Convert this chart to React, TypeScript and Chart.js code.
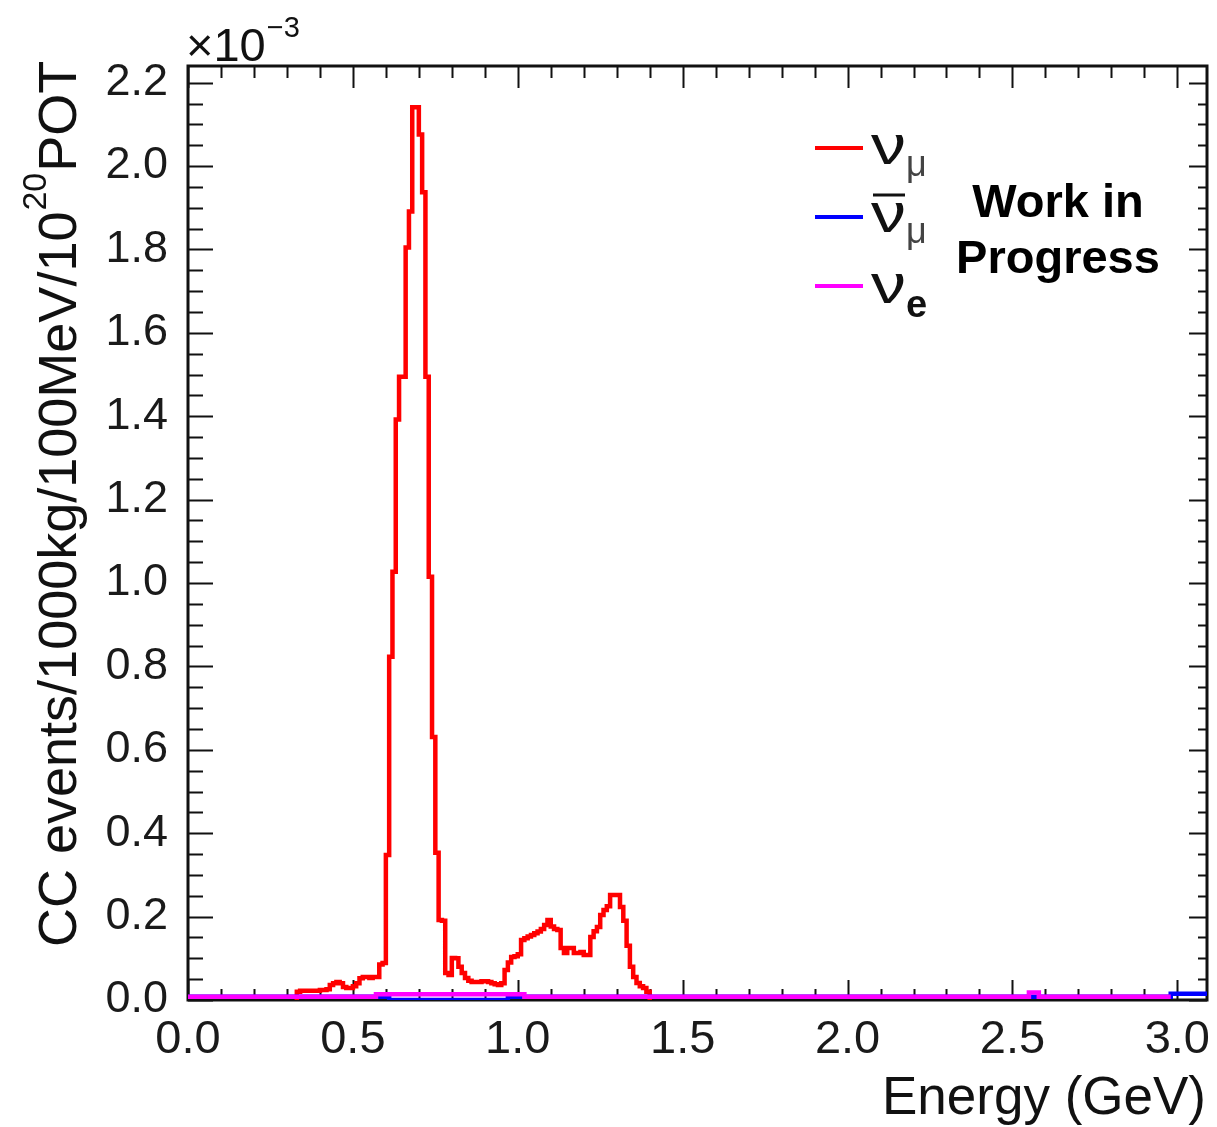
import React, { useEffect, useRef } from 'react';
import { Chart, registerables } from 'chart.js';

Chart.register(...registerables);

// ---------- data (values in units of 1e-3) ----------
const BIN_WIDTH = 0.01; // GeV
const numuStart = 0.33; // GeV, low edge of first non-empty bin
const numuValues = [
  0.02, 0.022, 0.022, 0.022, 0.022, 0.022, 0.022, 0.024, 0.024, 0.026, // 0.33-0.42
  0.036, 0.04, 0.043, 0.04, 0.031, 0.029, 0.029, 0.033, 0.04, 0.052, // 0.43-0.52
  0.055, 0.055, 0.053, 0.055, 0.055, 0.085, 0.089, 0.348, 0.823, 1.027, // 0.53-0.62
  1.392, 1.495, 1.495, 1.805, 1.891, 2.141, 2.141, 2.076, 1.937, 1.495, // 0.63-0.72
  1.015, 0.631, 0.353, 0.192, 0.19, 0.065, 0.06, 0.101, 0.1, 0.08, // 0.73-0.82
  0.065, 0.053, 0.046, 0.043, 0.043, 0.043, 0.045, 0.045, 0.043, 0.04, // 0.83-0.92
  0.038, 0.036, 0.04, 0.072, 0.09, 0.103, 0.105, 0.11, 0.144, 0.148, // 0.93-1.02
  0.152, 0.156, 0.16, 0.164, 0.17, 0.18, 0.192, 0.176, 0.17, 0.168, // 1.03-1.12
  0.125, 0.113, 0.125, 0.125, 0.113, 0.113, 0.115, 0.108, 0.108, 0.151, // 1.13-1.22
  0.165, 0.175, 0.204, 0.216, 0.225, 0.252, 0.252, 0.252, 0.223, 0.19, // 1.23-1.32
  0.13, 0.08, 0.055, 0.041, 0.033, 0.029, 0.02, // 1.33-1.39
];
const numubarEdges = [0, 0.61, 0.97, 2.98, 3.09];
const numubarValues = [0.008, 0.0, 0.008, 0.015];
const nueEdges = [0, 0.57, 1.02, 2.55, 2.58, 2.98];
const nueValues = [0.008, 0.014, 0.008, 0.018, 0.008];

const xTicks = [0, 0.5, 1.0, 1.5, 2.0, 2.5, 3.0];
const yTicks = [0, 0.2, 0.4, 0.6, 0.8, 1.0, 1.2, 1.4, 1.6, 1.8, 2.0, 2.2];
const X_MIN = 0;
const X_MAX = 3.09;
const Y_MIN = 0;
const Y_MAX = 2.24;
const X_MINOR = 0.1;
const Y_MINOR = 0.05;

const seriesNames = ['ν', 'ν', 'ν'];
const seriesSubs = ['μ', 'μ', 'e'];
const seriesColors = ['#ff0000', '#0000ff', '#ff00ff'];
const xTitle = 'Energy (GeV)';
const yTitleParts = ['CC events/1000kg/100MeV/10', '20', 'POT'];
const exponentText = ['×10', '−3'];
const noteLines = ['Work in', 'Progress'];

// ---------- helpers ----------
const r3 = (v: number) => Math.round(v * 100000) / 100000;

function uniformHist(start: number, w: number, vals: number[]) {
  const pts: { x: number; y: number }[] = [{ x: start, y: 0 }];
  vals.forEach((v, i) => pts.push({ x: r3(start + i * w), y: v }));
  pts.push({ x: r3(start + vals.length * w), y: 0 });
  return pts;
}

function edgeHist(edges: number[], vals: number[]) {
  const pts: { x: number; y: number }[] = [];
  vals.forEach((v, i) => pts.push({ x: edges[i], y: v }));
  pts.push({ x: edges[edges.length - 1], y: vals[vals.length - 1] });
  return pts;
}

const FONT = '"Liberation Sans", Arial, Helvetica, sans-serif';
const font = (weight: string, size: number) => `${weight} ${size}px ${FONT}`;

const framePlugin = {
  id: 'rootFrame',
  beforeDatasetsDraw(chart: any) {
    const { ctx, chartArea: a, scales } = chart;
    const xs = scales.x;
    const ys = scales.y;
    ctx.save();
    ctx.strokeStyle = '#111';
    ctx.lineWidth = 2;
    ctx.beginPath();
    for (let k = 0; ; k++) {
      const v = r3(X_MIN + k * X_MINOR);
      if (v > X_MAX + 1e-9) break;
      const major = xTicks.some((t) => Math.abs(t - v) < 1e-6);
      const px = Math.round(xs.getPixelForValue(v)) + 0.5;
      const lb = major ? 20 : 11;
      const lt = major ? 22 : 12;
      ctx.moveTo(px, a.bottom);
      ctx.lineTo(px, a.bottom - lb);
      ctx.moveTo(px, a.top);
      ctx.lineTo(px, a.top + lt);
    }
    for (let k = 0; ; k++) {
      const v = r3(Y_MIN + k * Y_MINOR);
      if (v > Y_MAX + 1e-9) break;
      const major = yTicks.some((t) => Math.abs(t - v) < 1e-6);
      const py = Math.round(ys.getPixelForValue(v)) + 0.5;
      const ll = major ? 25 : 15;
      const lr = major ? 18 : 9;
      ctx.moveTo(a.left, py);
      ctx.lineTo(a.left + ll, py);
      ctx.moveTo(a.right, py);
      ctx.lineTo(a.right - lr, py);
    }
    ctx.stroke();
    ctx.lineWidth = 3;
    ctx.strokeRect(a.left, a.top, a.right - a.left, a.bottom - a.top);
    ctx.restore();
  },
};

const textPlugin = {
  id: 'rootTexts',
  afterDraw(chart: any) {
    const { ctx, chartArea: a } = chart;
    ctx.save();
    ctx.fillStyle = '#111';
    ctx.textBaseline = 'alphabetic';
    ctx.textAlign = 'left';

    // exponent ×10^-3
    ctx.font = font('normal', 47);
    ctx.fillText(exponentText[0], a.left - 2, 61);
    const w10 = ctx.measureText(exponentText[0]).width;
    ctx.font = font('normal', 29);
    ctx.fillText(exponentText[1], a.left - 2 + w10 + 1, 37);

    // y title (rotated)
    ctx.save();
    ctx.translate(76, 947);
    ctx.rotate(-Math.PI / 2);
    ctx.font = font('normal', 54);
    ctx.fillText(yTitleParts[0], 0, 0);
    let wx = ctx.measureText(yTitleParts[0]).width;
    ctx.font = font('normal', 34);
    ctx.fillText(yTitleParts[1], wx + 1, -30);
    wx += ctx.measureText(yTitleParts[1]).width + 2;
    ctx.font = font('normal', 54);
    ctx.fillText(yTitleParts[2], wx, 0);
    ctx.restore();

    // x title
    ctx.font = font('normal', 53);
    ctx.textAlign = 'right';
    ctx.fillText(xTitle, a.right - 1, 1114);

    // legend
    ctx.textAlign = 'left';
    const rows = [
      { ly: 148, nuBase: 164, subBase: 176, bar: false },
      { ly: 217, nuBase: 232, subBase: 243, bar: true },
      { ly: 286, nuBase: 303, subBase: 317, bar: false },
    ];
    rows.forEach((r, i) => {
      ctx.strokeStyle = seriesColors[i];
      ctx.lineWidth = 4;
      ctx.beginPath();
      ctx.moveTo(815, r.ly);
      ctx.lineTo(863, r.ly);
      ctx.stroke();
      ctx.fillStyle = '#111';
      ctx.save();
      ctx.translate(871, r.nuBase);
      ctx.scale(1.25, 1);
      ctx.font = font('normal', 56);
      ctx.fillText(seriesNames[i], 0, 0);
      ctx.restore();
      if (r.bar) {
        ctx.strokeStyle = '#111';
        ctx.lineWidth = 3;
        ctx.beginPath();
        ctx.moveTo(873, 195);
        ctx.lineTo(905, 195);
        ctx.stroke();
      }
      const isE = seriesSubs[i] === 'e';
      ctx.fillStyle = isE ? '#111' : '#444';
      ctx.font = isE ? font('bold', 38) : font('normal', 36);
      ctx.fillText(seriesSubs[i], 906, r.subBase);
    });

    // Work in Progress
    ctx.fillStyle = '#000';
    ctx.textAlign = 'center';
    ctx.font = font('bold', 47);
    ctx.fillText(noteLines[0], 1058, 217);
    ctx.fillText(noteLines[1], 1058, 273);
    ctx.restore();
  },
};

export default function App() {
  const canvasRef = useRef<HTMLCanvasElement | null>(null);

  useEffect(() => {
    document.body.style.margin = '0';
    const canvas = canvasRef.current;
    if (!canvas) return;
    const chart = new Chart(canvas, {
      type: 'line',
      data: {
        datasets: [
          {
            label: 'nu_e',
            data: edgeHist(nueEdges, nueValues),
            borderColor: seriesColors[2],
            borderWidth: 4.5,
            stepped: true,
            pointRadius: 0,
            fill: false,
            order: 0,
          },
          {
            label: 'anti-nu_mu',
            data: edgeHist(numubarEdges, numubarValues),
            borderColor: seriesColors[1],
            borderWidth: 4.5,
            stepped: true,
            pointRadius: 0,
            fill: false,
            order: 1,
          },
          {
            label: 'nu_mu',
            data: uniformHist(numuStart, BIN_WIDTH, numuValues),
            borderColor: seriesColors[0],
            borderWidth: 4.5,
            stepped: true,
            pointRadius: 0,
            fill: false,
            order: 2,
          },
        ],
      },
      options: {
        responsive: false,
        animation: false,
        devicePixelRatio: 1,
        layout: { padding: { top: 66, right: 10, left: 0, bottom: 0 } },
        plugins: { legend: { display: false }, tooltip: { enabled: false } },
        scales: {
          x: {
            type: 'linear',
            min: X_MIN,
            max: X_MAX,
            grid: { display: false, drawTicks: false },
            border: { display: false },
            afterBuildTicks: (s: any) => {
              s.ticks = xTicks.map((v) => ({ value: v }));
            },
            afterFit: (s: any) => {
              s.height = 127;
              s.paddingLeft = 0;
              s.paddingRight = 0;
            },
            ticks: {
              autoSkip: false,
              maxRotation: 0,
              padding: 12,
              color: '#1a1a1a',
              font: { family: FONT, size: 47 },
              callback: (v: any) => Number(v).toFixed(1),
            },
          },
          y: {
            type: 'linear',
            min: Y_MIN,
            max: Y_MAX,
            grid: { display: false, drawTicks: false },
            border: { display: false },
            afterBuildTicks: (s: any) => {
              s.ticks = yTicks.map((v) => ({ value: v }));
            },
            afterFit: (s: any) => {
              s.width = 188;
              s.paddingTop = 0;
              s.paddingBottom = 0;
            },
            ticks: {
              autoSkip: false,
              padding: 20,
              color: '#1a1a1a',
              font: { family: FONT, size: 45 },
              callback: (v: any) => Number(v).toFixed(1),
            },
          },
        },
      },
      plugins: [framePlugin, textPlugin],
    });
    return () => chart.destroy();
  }, []);

  return (
    <div style={{ width: 1217, height: 1127, background: '#fff' }}>
      <canvas ref={canvasRef} width={1217} height={1127} style={{ display: 'block' }} />
    </div>
  );
}
